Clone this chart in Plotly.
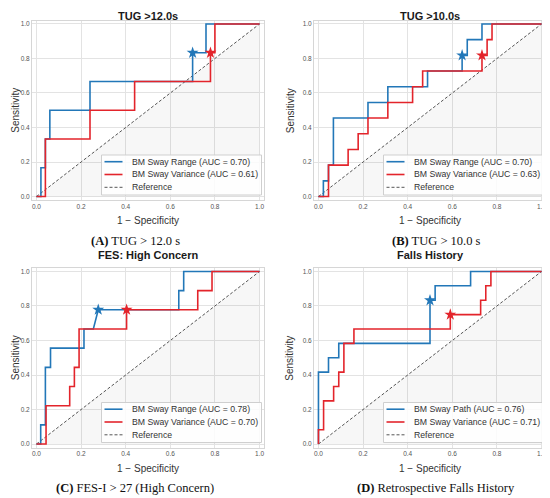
import plotly.graph_objects as go

# the page body adds an 8 px margin, so the figure is a bit smaller than the window
OFF = 8
W, H = 542, 490

# (A) TUG > 12.0 s
a_range_fpr = [0, 0.02, 0.02, 0.04, 0.04, 0.06, 0.06, 0.24, 0.24, 0.70, 0.70, 0.76, 0.76, 1.0]
a_range_tpr = [0, 0, 0.167, 0.167, 0.333, 0.333, 0.5, 0.5, 0.667, 0.667, 0.833, 0.833, 1.0, 1.0]
a_var_fpr = [0, 0.04, 0.04, 0.24, 0.24, 0.44, 0.44, 0.78, 0.78, 0.80, 0.80, 1.0]
a_var_tpr = [0, 0, 0.333, 0.333, 0.5, 0.5, 0.667, 0.667, 0.833, 0.833, 1.0, 1.0]
a_best = [(0.70, 0.833), (0.78, 0.833)]

# (B) TUG > 10.0 s
b_range_fpr = [0, 0.022, 0.022, 0.045, 0.045, 0.067, 0.067, 0.222, 0.222, 0.311, 0.311,
               0.489, 0.489, 0.644, 0.644, 0.667, 0.667, 0.733, 0.733, 1.0]
b_range_tpr = [0, 0, 0.091, 0.091, 0.182, 0.182, 0.455, 0.455, 0.545, 0.545, 0.636,
               0.636, 0.727, 0.727, 0.818, 0.818, 0.909, 0.909, 1.0, 1.0]
b_var_fpr = [0, 0.045, 0.045, 0.133, 0.133, 0.178, 0.178, 0.222, 0.222, 0.311, 0.311,
             0.422, 0.422, 0.467, 0.467, 0.733, 0.733, 0.756, 0.756, 0.778, 0.778, 1.0]
b_var_tpr = [0, 0, 0.182, 0.182, 0.273, 0.273, 0.364, 0.364, 0.455, 0.455, 0.545,
             0.545, 0.636, 0.636, 0.727, 0.727, 0.818, 0.818, 0.909, 0.909, 1.0, 1.0]
b_best = [(0.644, 0.818), (0.733, 0.818)]

# (C) FES-I > 27
c_range_fpr = [0, 0.019, 0.019, 0.04, 0.04, 0.063, 0.063, 0.213, 0.213, 0.255, 0.277,
               0.638, 0.638, 0.660, 0.660, 1.0]
c_range_tpr = [0, 0, 0.111, 0.111, 0.444, 0.444, 0.556, 0.556, 0.667, 0.667, 0.778,
               0.778, 0.889, 0.889, 1.0, 1.0]
c_var_fpr = [0, 0.043, 0.043, 0.149, 0.149, 0.170, 0.170, 0.191, 0.191, 0.404, 0.404,
             0.723, 0.723, 0.787, 0.787, 1.0]
c_var_tpr = [0, 0, 0.222, 0.222, 0.333, 0.333, 0.444, 0.444, 0.667, 0.667, 0.778,
             0.778, 0.889, 0.889, 1.0, 1.0]
c_best = [(0.277, 0.778), (0.404, 0.778)]

# (D) falls history
d_path_fpr = [0, 0, 0.045, 0.045, 0.091, 0.091, 0.5, 0.5, 0.523, 0.523, 0.682, 0.682, 1.0]
d_path_tpr = [0, 0.417, 0.417, 0.5, 0.5, 0.583, 0.583, 0.833, 0.833, 0.917, 0.917, 1.0, 1.0]
d_var_fpr = [0, 0, 0.023, 0.023, 0.068, 0.068, 0.091, 0.091, 0.114, 0.114, 0.159, 0.159,
             0.591, 0.591, 0.727, 0.727, 0.750, 0.750, 0.773, 0.773, 1.0]
d_var_tpr = [0, 0.083, 0.083, 0.25, 0.25, 0.333, 0.333, 0.417, 0.417, 0.583, 0.583, 0.667,
             0.667, 0.75, 0.75, 0.833, 0.833, 0.917, 0.917, 1.0, 1.0]
d_best = [(0.5, 0.833), (0.591, 0.75)]

titles = ['TUG >12.0s', 'TUG >10.0s', 'FES: High Concern', 'Falls History']
captions = ['<b>(A)</b> TUG &gt; 12.0 s', '<b>(B)</b> TUG &gt; 10.0 s',
            '<b>(C)</b> FES-I &gt; 27 (High Concern)', '<b>(D)</b> Retrospective Falls History']
blue_names = ['BM Sway Range (AUC = 0.70)', 'BM Sway Range (AUC = 0.70)',
              'BM Sway Range (AUC = 0.78)', 'BM Sway Path (AUC = 0.76)']
red_names = ['BM Sway Variance (AUC = 0.61)', 'BM Sway Variance (AUC = 0.63)',
             'BM Sway Variance (AUC = 0.70)', 'BM Sway Variance (AUC = 0.71)']
ref_x = [0, 1]

curves = [
    (a_range_fpr, a_range_tpr, a_var_fpr, a_var_tpr, a_best),
    (b_range_fpr, b_range_tpr, b_var_fpr, b_var_tpr, b_best),
    (c_range_fpr, c_range_tpr, c_var_fpr, c_var_tpr, c_best),
    (d_path_fpr, d_path_tpr, d_var_fpr, d_var_tpr, d_best),
]

BLUE = '#2277b8'
RED = '#e3242b'
GREY = '#555555'
SANS = 'Liberation Sans, Arial, sans-serif'
SERIF = 'Liberation Serif, Times New Roman, serif'

# frame boxes in window pixels: (left, right, top, bottom)
boxes = [(32, 264, 20.5, 200), (314, 546, 20.5, 200),
         (32, 264, 268, 447.5), (314, 546, 268, 447.5)]
caption_x = [135, 436, 135, 436]


def px(x):
    return (x - OFF) / W


def py(y):
    return 1 - (y - OFF) / H


fig = go.Figure()
layout = {}
annotations = []
shapes = []

for i, (bf, bt, rf, rt, best) in enumerate(curves):
    n = '' if i == 0 else str(i + 1)
    xa, ya = 'x' + n, 'y' + n
    left, right, top, bottom = boxes[i]

    # shaded region under the chance line
    fig.add_trace(go.Scatter(x=[ref_x[0], ref_x[1], ref_x[1], ref_x[0]],
                             y=[ref_x[0], ref_x[0], ref_x[1], ref_x[0]],
                             fill='toself', fillcolor='rgba(0,0,0,0.03)', mode='none',
                             showlegend=False, hoverinfo='skip', xaxis=xa, yaxis=ya))
    fig.add_trace(go.Scatter(x=ref_x, y=ref_x, mode='lines', name='Reference',
                             line=dict(color=GREY, width=1, dash='3px,2px'),
                             showlegend=False, xaxis=xa, yaxis=ya))
    fig.add_trace(go.Scatter(x=bf, y=bt, mode='lines', name=blue_names[i], showlegend=False,
                             line=dict(color=BLUE, width=1.6), xaxis=xa, yaxis=ya))
    fig.add_trace(go.Scatter(x=rf, y=rt, mode='lines', name=red_names[i], showlegend=False,
                             line=dict(color=RED, width=1.6), xaxis=xa, yaxis=ya))
    fig.add_trace(go.Scatter(x=[best[0][0]], y=[best[0][1]], mode='markers', showlegend=False,
                             marker=dict(symbol='star', size=9, color=BLUE),
                             xaxis=xa, yaxis=ya))
    fig.add_trace(go.Scatter(x=[best[1][0]], y=[best[1][1]], mode='markers', showlegend=False,
                             marker=dict(symbol='star', size=9, color=RED),
                             xaxis=xa, yaxis=ya))

    axis_common = dict(range=[-0.02, 1.02], dtick=0.2, tickformat='.1f', showgrid=True,
                       gridcolor='#e3e3e3', gridwidth=1, zeroline=False, showline=True,
                       linecolor='#d6d6d6', linewidth=1, mirror=True, ticks='',
                       automargin=False,
                       tickfont=dict(family=SANS, size=6.5, color='#555555'))
    layout['xaxis' + n] = dict(axis_common, domain=[px(left), px(right)], anchor=ya)
    layout['yaxis' + n] = dict(axis_common, domain=[py(bottom), py(top)], anchor=xa)

    # legend box in the lower right corner (matplotlib style, compact rows)
    lr, lb = right - 2.5, bottom - 5
    ll, lt = lr - 160, lb - 40
    shapes.append(dict(type='rect', xref='paper', yref='paper',
                       x0=px(ll), x1=px(lr), y0=py(lb), y1=py(lt),
                       fillcolor='rgba(255,255,255,0.85)', line=dict(color='#cfcfcf', width=1)))
    entries = [(blue_names[i], BLUE, 'solid', 1.6), (red_names[i], RED, 'solid', 1.6),
               ('Reference', GREY, 'dash', 1)]
    for k, (label, col, dash, lw) in enumerate(entries):
        ry = lt + 6.7 + 12.8 * k
        shapes.append(dict(type='line', xref='paper', yref='paper',
                           x0=px(ll + 3), x1=px(ll + 21), y0=py(ry), y1=py(ry),
                           line=dict(color=col, width=lw, dash='3px,2px' if dash == 'dash' else 'solid')))
        annotations.append(dict(text=label, x=px(ll + 28), y=py(ry), xanchor='left',
                                yanchor='middle', xref='paper', yref='paper', showarrow=False,
                                font=dict(family=SANS, size=8.7, color='#333333')))

    cx = (left + right) / 2
    if i < 2:
        # top row titles sit against the upper edge of the figure
        t_y, t_anchor = 1, 'top'
    else:
        t_y, t_anchor = py(top - 12.5), 'middle'
    annotations.append(dict(text='<b>' + titles[i] + '</b>', x=px(cx), y=t_y,
                            xanchor='center', yanchor=t_anchor,
                            xref='paper', yref='paper', showarrow=False,
                            font=dict(family=SANS, size=11, color='#1a1a1a')))
    annotations.append(dict(text='1 − Specificity', x=px(cx), y=py(bottom + 20.7),
                            xanchor='center', yanchor='middle',
                            xref='paper', yref='paper', showarrow=False,
                            font=dict(family=SANS, size=10, color='#333333')))
    if i % 2 == 0:
        s_x, s_anchor = 0, 'left'
    else:
        s_x, s_anchor = px(left - 24), 'center'
    annotations.append(dict(text='Sensitivity', x=s_x, y=py((top + bottom) / 2),
                            xanchor=s_anchor, yanchor='middle',
                            xref='paper', yref='paper', showarrow=False, textangle=-90,
                            font=dict(family=SANS, size=10, color='#333333')))
    annotations.append(dict(text=captions[i], x=px(caption_x[i]), y=py(bottom + 40.5),
                            xanchor='center', yanchor='middle',
                            xref='paper', yref='paper', showarrow=False,
                            font=dict(family=SERIF, size=12.5, color='#111111')))

fig.update_layout(layout)
fig.update_layout(width=W, height=H, margin=dict(l=0, r=0, t=0, b=0),
                  plot_bgcolor='white', paper_bgcolor='white', showlegend=False,
                  annotations=annotations, shapes=shapes)

fig.write_html("out.html")
